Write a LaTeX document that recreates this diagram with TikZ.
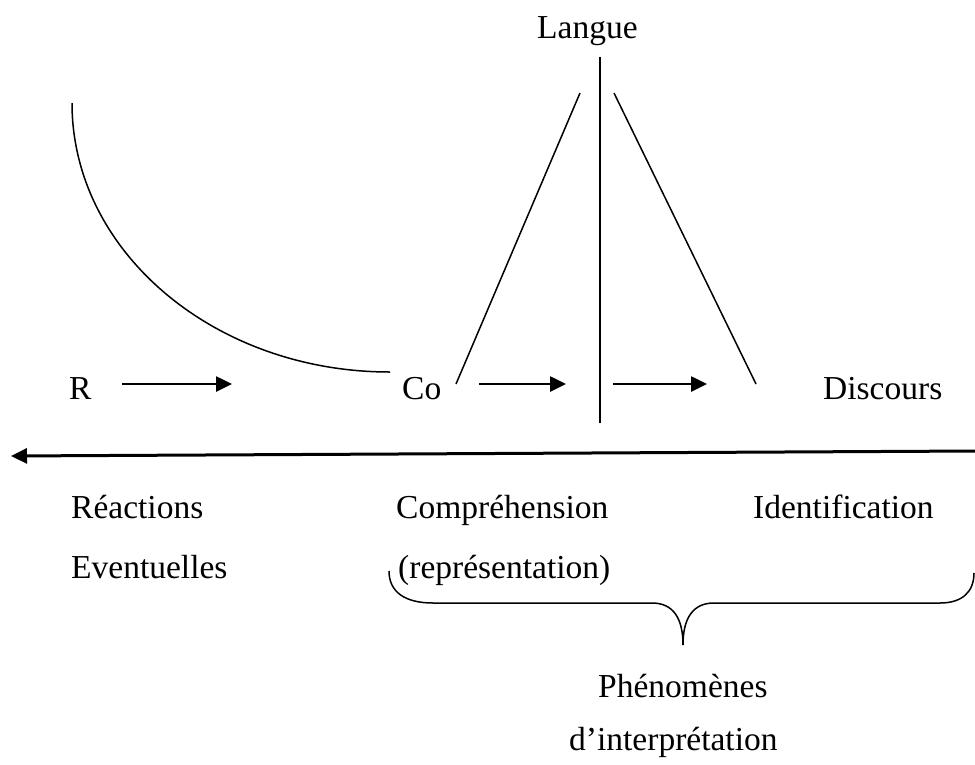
\documentclass[tikz,border=0pt]{standalone}
\usepackage{fontspec}
\setmainfont{Liberation Serif}
\usetikzlibrary{arrows.meta}
\begin{document}
\begin{tikzpicture}[x=1pt,y=-1pt,
  lbl/.style={anchor=base west,inner sep=0pt,font=\fontsize{33.5}{40}\selectfont},
  thinline/.style={line width=1.5pt},
  arr/.style={line width=2.6pt,-{Triangle[length=16pt,width=15pt]}},
  mainarr/.style={line width=3pt,-{Triangle[length=16pt,width=15pt]}}
]
\useasboundingbox (0,0) rectangle (975,764);
% texts
\node[lbl] (langue) at (537,38) {Langue};
\node[lbl] (r) at (69,399) {R};
\node[lbl] (co) at (402,399) {Co};
\node[lbl] (disc) at (823,399) {Discours};
\node[lbl] (reac) at (71,518) {Réactions};
\node[lbl] (even) at (71,578) {Eventuelles};
\node[lbl] (comp) at (396,518) {Compréhension};
\node[lbl] (repr) at (398,578) {(représentation)};
\node[lbl] (ident) at (753,518) {Identification};
\node[lbl] (phen) at (598,697) {Phénomènes};
\node[lbl] (interp) at (569,750) {d’interprétation};
% coordinates
\coordinate (vt) at (600,57);
\coordinate (vb) at (600,423);
\coordinate (lt) at (580,93);
\coordinate (lb) at (456,384);
\coordinate (rt) at (614,93);
\coordinate (rb) at (756,384);
\coordinate (a1s) at (122,384);
\coordinate (a1e) at (232,384);
\coordinate (a2s) at (479,384);
\coordinate (a2e) at (566,384);
\coordinate (a3s) at (613,384);
\coordinate (a3e) at (707,384);
\coordinate (ms) at (976,451);
\coordinate (me) at (11,456);
\coordinate (arcT) at (72,103);
\coordinate (bl) at (389,571);
\coordinate (tip) at (683,645);
\coordinate (br) at (974,573);
% lines
\draw[thinline] (vt) -- (vb);
\draw[thinline] (lt) -- (lb);
\draw[thinline] (rt) -- (rb);
\draw[thinline] (arcT) arc[start angle=180,end angle=90,x radius=318,y radius=269];
\draw[arr] (a1s) -- (a1e);
\draw[arr] (a2s) -- (a2e);
\draw[arr] (a3s) -- (a3e);
\draw[mainarr] (ms) -- (me);
% brace
\draw[thinline] (bl) .. controls (389,592) and (405,603) .. (433,603) -- (652,603)
  .. controls (673,603) and (683,618) .. (tip);
\draw[thinline] (tip) .. controls (683,618) and (693,603) .. (714,603) -- (940,603)
  .. controls (962,603) and (974,592) .. (br);
\end{tikzpicture}
\end{document}
